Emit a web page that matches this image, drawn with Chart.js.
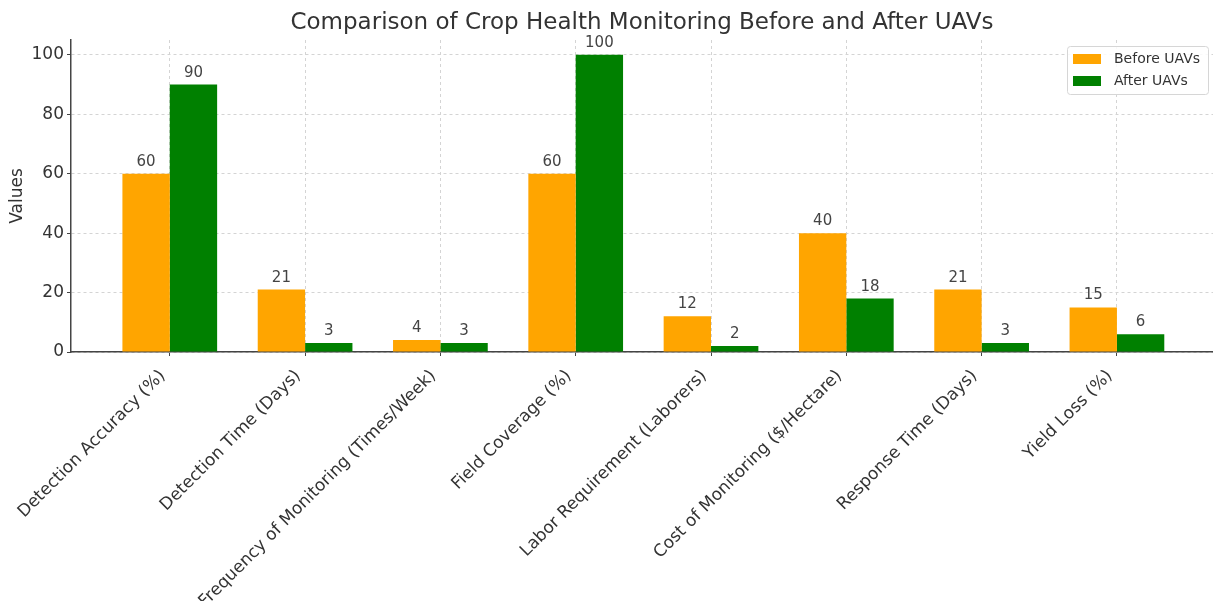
<!DOCTYPE html>
<html>
<head>
<meta charset="utf-8">
<script src="https://cdn.jsdelivr.net/npm/chart.js@4.4.0/dist/chart.umd.min.js"></script>
<style>
  html, body { margin: 0; padding: 0; background: #ffffff; }
  #wrap { width: 1213px; height: 601px; }
</style>
</head>
<body>
<div id="wrap"><canvas id="chart" width="1213" height="601"></canvas></div>
<script>
// Metrics compared before and after adopting UAV-based crop monitoring
const categories = [
  'Detection Accuracy (%)',
  'Detection Time (Days)',
  'Frequency of Monitoring (Times/Week)',
  'Field Coverage (%)',
  'Labor Requirement (Laborers)',
  'Cost of Monitoring ($/Hectare)',
  'Response Time (Days)',
  'Yield Loss (%)'
];
const beforeUAVs = [60, 21, 4, 60, 12, 40, 21, 15];
const afterUAVs = [90, 3, 3, 100, 2, 18, 3, 6];
const yTicks = [0, 20, 40, 60, 80, 100];
const seriesNames = ['Before UAVs', 'After UAVs'];
const seriesColors = ['#FFA500', '#008000'];
const chartTitle = 'Comparison of Crop Health Monitoring Before and After UAVs';
const yAxisTitle = 'Values';

const FONT = "'DejaVu Sans', sans-serif";
const TEXT = '#333333';

const toPoints = vals => vals.map((v, i) => ({ x: i, y: v }));

// Title centred over the plotting area
const titlePlugin = {
  id: 'plotTitle',
  afterDraw(chart) {
    const { ctx, chartArea } = chart;
    ctx.save();
    ctx.font = '23px ' + FONT;
    ctx.fillStyle = TEXT;
    ctx.textAlign = 'center';
    ctx.textBaseline = 'middle';
    ctx.fillText(chartTitle, (chartArea.left + chartArea.right) / 2, 23);
    ctx.restore();
  }
};

// Value printed above each bar
const valueLabels = {
  id: 'valueLabels',
  afterDatasetsDraw(chart) {
    const { ctx } = chart;
    ctx.save();
    ctx.font = '15px ' + FONT;
    ctx.fillStyle = '#444444';
    ctx.textAlign = 'center';
    ctx.textBaseline = 'alphabetic';
    chart.data.datasets.forEach((ds, di) => {
      const meta = chart.getDatasetMeta(di);
      meta.data.forEach((bar, i) => {
        ctx.fillText(String(ds.data[i].y), bar.x, bar.y - 8);
      });
    });
    ctx.restore();
  }
};

// Boxed legend in the upper-right corner of the plot
const boxLegend = {
  id: 'boxLegend',
  afterDraw(chart) {
    const { ctx, chartArea } = chart;
    const w = 141, h = 48;
    const x = chartArea.right - 5 - w, y = chartArea.top + 6;
    ctx.save();
    ctx.beginPath();
    ctx.roundRect(x + 0.5, y + 0.5, w, h, 3);
    ctx.fillStyle = 'rgba(255,255,255,0.85)';
    ctx.fill();
    ctx.strokeStyle = '#d6d6d6';
    ctx.lineWidth = 1;
    ctx.stroke();
    ctx.font = '14px ' + FONT;
    ctx.textAlign = 'left';
    ctx.textBaseline = 'middle';
    chart.data.datasets.forEach((ds, i) => {
      const cy = y + 13 + i * 22;
      ctx.fillStyle = ds.backgroundColor;
      ctx.fillRect(x + 6, cy - 5, 28, 10);
      ctx.fillStyle = TEXT;
      ctx.fillText(ds.label, x + 47, cy);
    });
    ctx.restore();
  }
};

new Chart(document.getElementById('chart'), {
  type: 'bar',
  data: {
    datasets: [
      { label: seriesNames[0], data: toPoints(beforeUAVs), backgroundColor: seriesColors[0] },
      { label: seriesNames[1], data: toPoints(afterUAVs), backgroundColor: seriesColors[1] }
    ]
  },
  options: {
    responsive: false,
    animation: false,
    devicePixelRatio: 1,
    layout: { padding: { top: 40, left: 0, right: 0, bottom: 0 } },
    datasets: { bar: { categoryPercentage: 0.7, barPercentage: 1.0, borderWidth: 0 } },
    plugins: {
      legend: { display: false },
      title: { display: false },
      tooltip: { enabled: false }
    },
    scales: {
      x: {
        type: 'linear',
        offset: false,
        min: -0.73,
        max: categories.length - 1 + 0.71,
        afterBuildTicks(scale) {
          scale.ticks = categories.map((_, i) => ({ value: i }));
        },
        afterFit(scale) {
          scale.height = 249;
          scale.paddingLeft = 0;
          scale.paddingRight = 0;
        },
        ticks: {
          autoSkip: false,
          maxRotation: 45,
          minRotation: 45,
          padding: 10,
          labelOffset: -7,
          color: TEXT,
          font: { family: FONT, size: 17 },
          callback: v => categories[v]
        },
        grid: { offset: false, color: '#d4d4d4', lineWidth: 1, drawTicks: true, tickLength: 4, tickColor: '#444444' },
        border: { display: true, color: '#444444', width: 1.5, dash: [3, 3] }
      },
      y: {
        min: 0,
        max: 105,
        afterBuildTicks(scale) {
          scale.ticks = yTicks.map(v => ({ value: v }));
        },
        afterFit(scale) {
          scale.width = 71;
          scale.paddingTop = 0;
          scale.paddingBottom = 0;
        },
        ticks: {
          padding: 3,
          color: TEXT,
          font: { family: FONT, size: 17 }
        },
        grid: { color: '#d4d4d4', lineWidth: 1, drawTicks: true, tickLength: 4, tickColor: '#444444' },
        border: { display: true, color: '#444444', width: 1.5, dash: [3, 3] },
        title: {
          display: true,
          text: yAxisTitle,
          color: TEXT,
          font: { family: FONT, size: 17 },
          padding: { top: 7, bottom: 0 }
        }
      }
    }
  },
  plugins: [titlePlugin, valueLabels, boxLegend]
});
</script>
</body>
</html>
